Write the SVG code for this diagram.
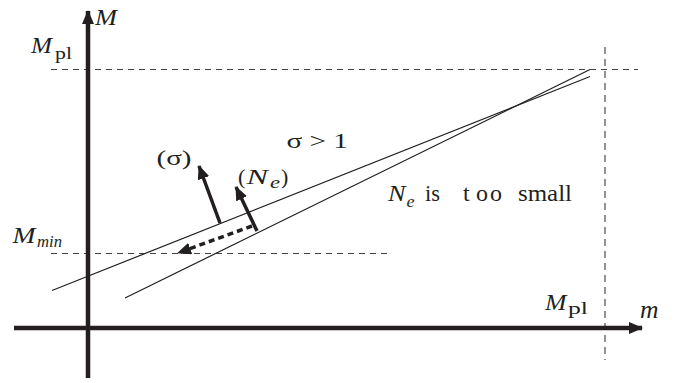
<svg xmlns="http://www.w3.org/2000/svg" width="676" height="383" viewBox="0 0 676 383">
<defs>
<marker id="ah" markerUnits="userSpaceOnUse" markerWidth="14" markerHeight="12" refX="13" refY="6" orient="auto"><path d="M0,0 L14,6 L0,12 Z" fill="#231f20"/></marker>
<marker id="ah2" markerUnits="userSpaceOnUse" markerWidth="14" markerHeight="12" refX="13" refY="6" orient="auto"><path d="M0,0 L14,6 L0,12 Z" fill="#231f20"/></marker>
</defs>
<style>
.ax{stroke:#231f20;stroke-width:4.5;fill:none}
.thin{stroke:#231f20;stroke-width:1.2;fill:none}
.dash{stroke:#444;stroke-width:1.2;stroke-dasharray:6 5;fill:none}
.vdash{stroke:#777;stroke-width:1.6;stroke-dasharray:7 5;fill:none}
.arr{stroke:#231f20;stroke-width:3.5;fill:none}
text{font-family:"Liberation Serif","Times New Roman",serif;fill:#231f20}
.it{font-style:italic}
</style>
<g id="guides">
<line class="dash" x1="51" y1="69.5" x2="638" y2="69.5"/>
<line class="vdash" x1="605" y1="47" x2="605" y2="360"/>
<line class="dash" x1="51" y1="253.5" x2="390" y2="253.5"/>
</g>
<g id="axes">
<line class="ax" x1="88" y1="378" x2="88" y2="11" marker-end="url(#ah)"/>
<line class="ax" x1="14" y1="328" x2="642" y2="328" marker-end="url(#ah)"/>
</g>
<g id="lines">
<line class="thin" x1="52" y1="290.5" x2="590" y2="76.5"/>
<line class="thin" x1="125" y1="298" x2="590" y2="69.5"/>
</g>
<g id="connectors">
<line class="arr" x1="220" y1="223" x2="199" y2="166" marker-end="url(#ah2)"/>
<line class="arr" x1="257" y1="231" x2="236" y2="187" marker-end="url(#ah2)"/>
<line class="arr" x1="252" y1="226" x2="178" y2="253" stroke-dasharray="6 4" marker-end="url(#ah2)"/>
</g>
<g id="labels">
<text x="95" y="25" font-size="24" class="it" textLength="22" lengthAdjust="spacingAndGlyphs">M</text>
<text x="31" y="53" font-size="23" class="it" textLength="21" lengthAdjust="spacingAndGlyphs">M</text>
<text x="55" y="58.5" font-size="17" textLength="17" lengthAdjust="spacingAndGlyphs">pl</text>
<text x="12.5" y="243" font-size="23" class="it" textLength="23" lengthAdjust="spacingAndGlyphs">M</text>
<text x="37" y="247" font-size="16" class="it" textLength="25" lengthAdjust="spacingAndGlyphs">min</text>
<text x="545" y="310" font-size="23" class="it" textLength="21.5" lengthAdjust="spacingAndGlyphs">M</text>
<text x="568" y="314" font-size="17" textLength="20" lengthAdjust="spacingAndGlyphs">pl</text>
<text x="640" y="318" font-size="25" class="it" textLength="18.5" lengthAdjust="spacingAndGlyphs">m</text>
<text x="156.5" y="164.5" font-size="22" textLength="35" lengthAdjust="spacingAndGlyphs">(σ)</text>
<text x="238" y="184" font-size="22">(</text>
<text x="246.5" y="184" font-size="22" class="it" textLength="21.5" lengthAdjust="spacingAndGlyphs">N</text>
<text x="270" y="188" font-size="16" class="it" textLength="10" lengthAdjust="spacingAndGlyphs">e</text>
<text x="281" y="184" font-size="22">)</text>
<text x="286.5" y="148" font-size="22" textLength="61.5" lengthAdjust="spacingAndGlyphs">σ &gt; 1</text>
<text x="388" y="201" font-size="23" class="it" textLength="17.5" lengthAdjust="spacingAndGlyphs">N</text>
<text x="406.5" y="206.5" font-size="16" class="it" textLength="8" lengthAdjust="spacingAndGlyphs">e</text>
<text x="425" y="201" font-size="24" textLength="15" lengthAdjust="spacingAndGlyphs">is</text>
<text x="463" y="201" font-size="24"><tspan>t</tspan><tspan x="476" letter-spacing="2">oo</tspan></text>
<text x="518" y="201" font-size="24" textLength="54" lengthAdjust="spacingAndGlyphs">small</text>
</g>
</svg>
